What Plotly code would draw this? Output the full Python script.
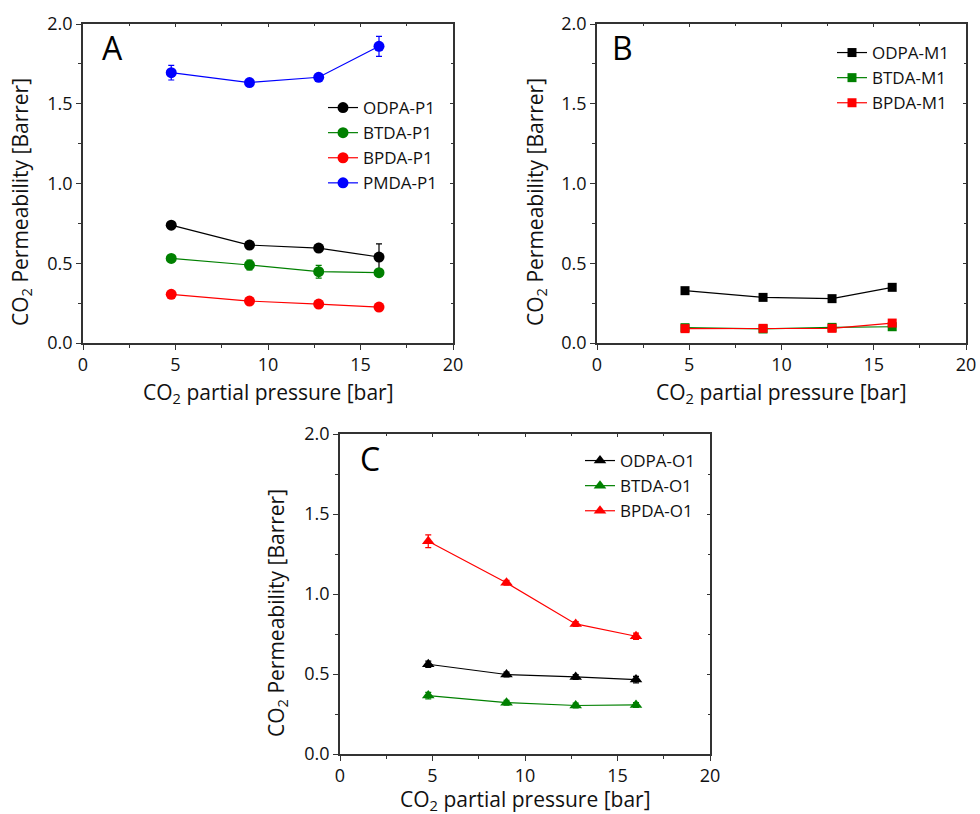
import plotly.graph_objects as go

# ---------------- data ----------------
pressure = [4.77, 9.0, 12.74, 16.0]

# Panel A (P1 series, circles)
odpa_p1 = [0.739, 0.614, 0.595, 0.539]
odpa_p1_err = [0.0, 0.0, 0.0, 0.083]
btda_p1 = [0.530, 0.489, 0.447, 0.441]
btda_p1_err = [0.0, 0.03, 0.04, 0.01]
bpda_p1 = [0.305, 0.263, 0.244, 0.225]
bpda_p1_err = [0.0, 0.0, 0.0, 0.0]
pmda_p1 = [1.695, 1.633, 1.666, 1.860]
pmda_p1_err = [0.046, 0.0, 0.02, 0.063]

# Panel B (M1 series, squares)
odpa_m1 = [0.328, 0.286, 0.278, 0.349]
btda_m1 = [0.096, 0.088, 0.098, 0.102]
bpda_m1 = [0.090, 0.092, 0.092, 0.125]

# Panel C (O1 series, triangles)
odpa_o1 = [0.561, 0.497, 0.482, 0.465]
odpa_o1_err = [0.02, 0.015, 0.015, 0.02]
btda_o1 = [0.365, 0.321, 0.303, 0.307]
btda_o1_err = [0.02, 0.015, 0.015, 0.015]
bpda_o1 = [1.330, 1.070, 0.813, 0.736]
bpda_o1_err = [0.04, 0.015, 0.015, 0.02]

x_ticks = [0, 5, 10, 15, 20]
y_ticks = [0.0, 0.5, 1.0, 1.5, 2.0]
y_tick_text = ["0.0", "0.5", "1.0", "1.5", "2.0"]

BLACK = "#000000"
GREEN = "#008000"
RED = "#ff0000"
BLUE = "#0000ff"
FONT = "Open Sans"

fig = go.Figure()


def add(xa, ya, leg, name, y, err, color, symbol, size):
    fig.add_trace(go.Scatter(
        x=pressure, y=y, name=name, mode="lines+markers",
        xaxis=xa, yaxis=ya, legend=leg,
        line=dict(color=color, width=1.2),
        marker=dict(color=color, symbol=symbol, size=size),
        error_y=dict(type="data", array=err, visible=err is not None,
                     color=color, thickness=1.2, width=3),
    ))


add("x", "y", "legend", "ODPA-P1", odpa_p1, odpa_p1_err, BLACK, "circle", 11)
add("x", "y", "legend", "BTDA-P1", btda_p1, btda_p1_err, GREEN, "circle", 11)
add("x", "y", "legend", "BPDA-P1", bpda_p1, bpda_p1_err, RED, "circle", 11)
add("x", "y", "legend", "PMDA-P1", pmda_p1, pmda_p1_err, BLUE, "circle", 11)

add("x2", "y2", "legend2", "ODPA-M1", odpa_m1, None, BLACK, "square", 9)
add("x2", "y2", "legend2", "BTDA-M1", btda_m1, None, GREEN, "square", 9)
add("x2", "y2", "legend2", "BPDA-M1", bpda_m1, None, RED, "square", 9)

add("x3", "y3", "legend3", "ODPA-O1", odpa_o1, odpa_o1_err, BLACK, "triangle-up", 11)
add("x3", "y3", "legend3", "BTDA-O1", btda_o1, btda_o1_err, GREEN, "triangle-up", 11)
add("x3", "y3", "legend3", "BPDA-O1", bpda_o1, bpda_o1_err, RED, "triangle-up", 11)

W, H = 980, 814
# pixel boxes of the three plot areas: (left, right, top, bottom)
boxes = {
    "1": (83, 453, 24, 343),
    "2": (597, 966, 24, 343),
    "3": (340, 710, 434, 754),
}

AXCOL = "#333333"
tickfont = dict(family=FONT, size=18, color="#111111")

layout = dict(
    width=W, height=H, margin=dict(l=0, r=0, t=0, b=0, autoexpand=False),
    paper_bgcolor="white", plot_bgcolor="white",
    font=dict(family=FONT, color="#111111"),
)

for k, (l, r, t, b) in boxes.items():
    sx = "" if k == "1" else k
    xd = [l / W, r / W]
    yd = [1 - b / H, 1 - t / H]
    layout["xaxis" + sx] = dict(
        domain=xd, anchor="y" + sx, range=[0, 20], tickvals=x_ticks,
        ticks="outside", ticklen=5, tickwidth=1.2, tickcolor=AXCOL,
        showline=True, linecolor=AXCOL, linewidth=1.5, mirror=True,
        showgrid=False, zeroline=False, tickfont=tickfont, automargin=False,
        minor=dict(dtick=2.5, tick0=0, ticks="outside", ticklen=3,
                   tickwidth=1, tickcolor=AXCOL),
    )
    layout["yaxis" + sx] = dict(
        domain=yd, anchor="x" + sx, range=[0, 2.0], tickvals=y_ticks,
        ticktext=y_tick_text,
        ticks="outside", ticklen=5, tickwidth=1.2, tickcolor=AXCOL,
        showline=True, linecolor=AXCOL, linewidth=1.5, mirror=True,
        showgrid=False, zeroline=False, tickfont=tickfont, automargin=False,
        minor=dict(dtick=0.25, tick0=0, ticks="outside", ticklen=3,
                   tickwidth=1, tickcolor=AXCOL),
    )

# overlay axes providing inward ticks on top and right sides
extra = {"1": ("4", "4"), "2": ("5", "5"), "3": ("6", "6")}
for k, (xk, yk) in extra.items():
    sx = "" if k == "1" else k
    layout["xaxis" + xk] = dict(
        overlaying="x" + sx, anchor="y" + sx, side="top", range=[0, 20],
        tickvals=x_ticks, ticks="inside", ticklen=3, tickcolor=AXCOL,
        showticklabels=False, showline=False, showgrid=False, zeroline=False,
        automargin=False,
        minor=dict(dtick=2.5, tick0=0, ticks="inside", ticklen=2, tickcolor=AXCOL),
    )
    layout["yaxis" + yk] = dict(
        overlaying="y" + sx, anchor="x" + sx, side="right", range=[0, 2.0],
        tickvals=y_ticks, ticks="inside", ticklen=3, tickcolor=AXCOL,
        showticklabels=False, showline=False, showgrid=False, zeroline=False,
        automargin=False,
        minor=dict(dtick=0.25, tick0=0, ticks="inside", ticklen=2, tickcolor=AXCOL),
    )

legfont = dict(family=FONT, size=17, color="#111111")
layout["legend"] = dict(x=323 / W, y=1 - 90 / H, xanchor="left", yanchor="top",
                        font=legfont, bgcolor="rgba(0,0,0,0)", tracegroupgap=0)
layout["legend2"] = dict(x=832 / W, y=1 - 35 / H, xanchor="left", yanchor="top",
                         font=legfont, bgcolor="rgba(0,0,0,0)")
layout["legend3"] = dict(x=580 / W, y=1 - 443 / H, xanchor="left", yanchor="top",
                         font=legfont, bgcolor="rgba(0,0,0,0)")

fig.update_layout(**layout)

# dummy invisible traces so the overlay axes are drawn
for xk, yk in extra.values():
    fig.add_trace(go.Scatter(x=[None], y=[None], xaxis="x" + xk, yaxis="y" + yk,
                             showlegend=False, hoverinfo="skip"))

ann = []
titlefont = dict(family=FONT, size=21, color="#111111")
# axis titles
xt = {"1": (268, 393), "2": (781, 393), "3": (525, 800)}
yt = {"1": (21, 202), "2": (536, 202), "3": (277, 613)}
letters = {"1": ("A", 112, 47), "2": ("B", 622, 47), "3": ("C", 370, 458)}
for k in boxes:
    x, y = xt[k]
    ann.append(dict(text="CO<sub>2</sub> partial pressure [bar]", x=x / W, y=1 - y / H,
                    xref="paper", yref="paper", showarrow=False, font=titlefont,
                    xanchor="center", yanchor="middle"))
    x, y = yt[k]
    ann.append(dict(text="CO<sub>2</sub> Permeability [Barrer]", x=x / W, y=1 - y / H,
                    xref="paper", yref="paper", showarrow=False, font=titlefont,
                    textangle=-90, xanchor="center", yanchor="middle"))
    t, x, y = letters[k]
    ann.append(dict(text=t, x=x / W, y=1 - y / H, xref="paper", yref="paper",
                    showarrow=False, font=dict(family=FONT, size=32, color="#000000"),
                    xanchor="center", yanchor="middle"))
fig.update_layout(annotations=ann)

fig.write_html("out.html")
